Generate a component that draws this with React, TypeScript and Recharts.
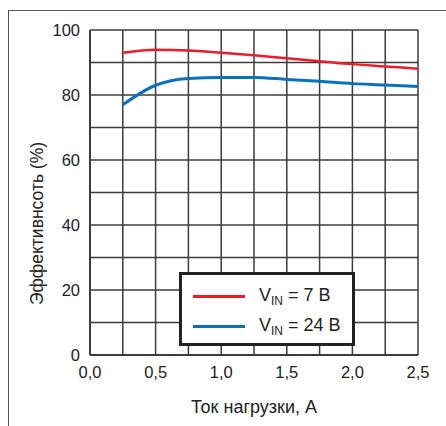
import React from 'react';
import { LineChart, Line, XAxis, YAxis, CartesianGrid, Legend } from 'recharts';

const currentA = [0.25, 0.5, 0.75, 1.0, 1.25, 1.5, 1.75, 2.0, 2.25, 2.5];
const eff7V = [93.0, 93.9, 93.7, 93.0, 92.2, 91.3, 90.4, 89.5, 88.8, 88.1];
const eff24V = [77.0, 83.0, 85.1, 85.4, 85.4, 84.8, 84.2, 83.5, 83.1, 82.6];

const xTicks = [0, 0.25, 0.5, 0.75, 1.0, 1.25, 1.5, 1.75, 2.0, 2.25, 2.5];
const xLabeled = [0, 0.5, 1.0, 1.5, 2.0, 2.5];
const yTicks = [0, 10, 20, 30, 40, 50, 60, 70, 80, 90, 100];
const yLabeled = [0, 20, 40, 60, 80, 100];

const seriesOrder = ['v7', 'v24'];
const seriesNames: Record<string, string> = { v7: '7 B', v24: '24 B' };
const xTitle = 'Ток нагрузки, А';
const yTitle = 'Эффективнсоть (%)';

const data = currentA.map((x, i) => ({ x, v7: eff7V[i], v24: eff24V[i] }));

const FONT = '"Liberation Sans", Arial, sans-serif';
const RED = '#ec1c2a';
const BLUE = '#0a72bd';
const GRID = '#3c3c3c';

const fmtX = (v: number) => (xLabeled.some((t) => Math.abs(t - v) < 1e-9) ? v.toFixed(1).replace('.', ',') : '');
const fmtY = (v: number) => (yLabeled.includes(v) ? String(v) : '');

const LegendBox = (props: any) => {
  const payload = [...(props.payload || [])].sort(
    (a: any, b: any) => seriesOrder.indexOf(a.dataKey) - seriesOrder.indexOf(b.dataKey)
  );
  return (
    <div
      style={{
        border: '3px solid #222',
        background: '#fff',
        width: 170,
        height: 68,
        boxSizing: 'content-box',
        fontFamily: FONT,
        fontSize: 18,
        color: '#222',
      }}
    >
      {payload.map((p: any, i: number) => (
        <div key={i} style={{ display: 'flex', alignItems: 'center', height: 30, marginTop: i === 0 ? 6 : 0 }}>
          <div style={{ marginLeft: 11, width: 52, height: 3, background: p.color }} />
          <div style={{ marginLeft: 14, whiteSpace: 'nowrap', lineHeight: '18px' }}>
            V<sub style={{ fontSize: 12, verticalAlign: 'baseline', position: 'relative', top: 4 }}>IN</sub> = {p.value}
          </div>
        </div>
      ))}
    </div>
  );
};

export default function App() {
  return (
    <div style={{ position: 'absolute', left: 0, top: 0, width: 446, height: 426, background: '#fff' }}>
      <div
        style={{
          position: 'absolute',
          left: 8,
          top: 10,
          width: 438,
          height: 416,
          borderLeft: '1.5px solid #555',
          borderTop: '1.5px solid #555',
        }}
      />
      <div style={{ position: 'absolute', left: 0, top: 0 }}>
        <LineChart width={446} height={426} data={data} margin={{ top: 30, right: 28, left: 30, bottom: 41 }}>
          <CartesianGrid stroke={GRID} strokeWidth={1.5} />
          <XAxis
            dataKey="x"
            type="number"
            domain={[0, 2.5]}
            ticks={xTicks}
            tickFormatter={fmtX}
            interval={0}
            height={30}
            tickLine={false}
            tickMargin={5}
            axisLine={{ stroke: GRID, strokeWidth: 2 }}
            tick={{ fill: '#222', fontSize: 16.5, fontFamily: FONT }}
            label={(p: any) => {
              const vb = p.viewBox;
              return (
                <text x={vb.x + vb.width / 2} y={vb.y + 58} textAnchor="middle" fill="#222" fontSize={18} fontFamily={FONT}>
                  {xTitle}
                </text>
              );
            }}
          />
          <YAxis
            type="number"
            domain={[0, 100]}
            ticks={yTicks}
            tickFormatter={fmtY}
            interval={0}
            width={60}
            tickLine={false}
            tickMargin={4}
            axisLine={{ stroke: GRID, strokeWidth: 2 }}
            tick={{ fill: '#222', fontSize: 16.5, fontFamily: FONT }}
            label={(p: any) => {
              const vb = p.viewBox;
              const cx = vb.x + 7;
              const cy = vb.y + vb.height / 2 + 31;
              return (
                <text
                  x={cx}
                  y={cy}
                  transform={`rotate(-90 ${cx} ${cy})`}
                  textAnchor="middle"
                  dominantBaseline="central"
                  fill="#222"
                  fontSize={17.5}
                  fontFamily={FONT}
                >
                  {yTitle}
                </text>
              );
            }}
          />
          <Legend
            layout="vertical"
            align="center"
            verticalAlign="middle"
            content={LegendBox}
            wrapperStyle={{ left: 179, top: 272, width: 176, height: 74 }}
          />
          <Line type="monotone" dataKey="v7" name={seriesNames.v7} stroke={RED} strokeWidth={2.5} dot={false} isAnimationActive={false} />
          <Line type="monotone" dataKey="v24" name={seriesNames.v24} stroke={BLUE} strokeWidth={3} dot={false} isAnimationActive={false} />
        </LineChart>
      </div>
    </div>
  );
}
